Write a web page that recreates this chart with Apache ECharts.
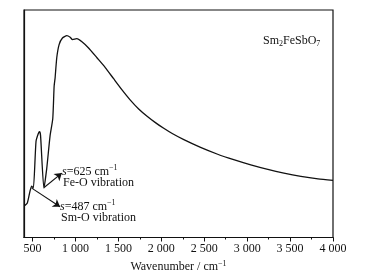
<!DOCTYPE html>
<html>
<head>
<meta charset="utf-8">
<script src="https://cdn.jsdelivr.net/npm/echarts@6/dist/echarts.min.js"></script>
<style>
  html, body { margin: 0; padding: 0; background: #fff; }
  #chart { width: 366px; height: 278px; }
</style>
</head>
<body>
<div id="chart"></div>
<script>
  // wavenumber (cm-1) and relative intensity
  const wavenumbers = [403, 439, 470, 490, 509, 540, 567, 581, 593, 632, 665, 704, 735, 751, 762, 782, 809, 848, 899, 938, 965, 1016, 1075, 1152, 1250, 1347, 1444, 1542, 1639, 1736, 1834, 1931, 2028, 2127, 2262, 2457, 2656, 2843, 3042, 3241, 3428, 3626, 3825, 4000];
  const intensity = [13.9, 15.2, 20.4, 22.6, 21.7, 42.2, 45.7, 46.5, 44.8, 21.7, 30.4, 44.8, 52.2, 66.5, 70.0, 79.1, 84.8, 87.7, 88.7, 88.0, 87.0, 87.4, 86.0, 83.3, 79.0, 74.7, 69.8, 64.9, 60.4, 56.5, 53.3, 50.5, 48.0, 45.7, 43.0, 39.6, 36.6, 34.2, 31.9, 29.9, 28.3, 26.9, 25.8, 25.1];
  const majorTicks = [500, 1000, 1500, 2000, 2500, 3000, 3500, 4000];
  const minorTicks = [750, 1250, 1750, 2250, 2750, 3250, 3750];

  const serif = '"Liberation Serif", "DejaVu Serif", serif';
  const chart = echarts.init(document.getElementById('chart'));

  const fmt = v => v >= 1000 ? Math.floor(v / 1000) + ' ' + String(v % 1000).padStart(3, '0') : String(v);

  const supRich = {
    i: { fontStyle: 'italic', fontFamily: serif, fontSize: 12, color: '#111' },
    n: { fontFamily: serif, fontSize: 12, color: '#111' },
    sup: { fontFamily: serif, fontSize: 8, color: '#111', padding: [0, 0, 7, 0] },
    sub: { fontFamily: serif, fontSize: 8, color: '#111', padding: [6, 0, 0, 0] }
  };

  chart.setOption({
    animation: false,
    grid: { left: 24, right: 33, top: 10, bottom: 38, show: true, borderColor: '#111', borderWidth: 1.2 },
    xAxis: [{
      type: 'value', min: 400, max: 4000,
      name: 'Wavenumber / cm{sup|−1}',
      nameLocation: 'middle', nameGap: 22,
      nameTextStyle: { fontFamily: serif, fontSize: 12, color: '#111', rich: supRich },
      axisLine: { show: true, lineStyle: { color: '#111', width: 1.2 } },
      axisTick: { show: true, customValues: majorTicks, length: 4, lineStyle: { color: '#111' } },
      axisLabel: { customValues: majorTicks, formatter: fmt, fontFamily: serif, fontSize: 12, color: '#111', margin: 5 },
      splitLine: { show: false }
    }, {
      type: 'value', min: 400, max: 4000, position: 'bottom',
      axisLine: { show: false },
      axisTick: { show: true, customValues: minorTicks, length: 2, lineStyle: { color: '#111' } },
      axisLabel: { show: false },
      splitLine: { show: false }
    }],
    yAxis: {
      type: 'value', min: 0, max: 100,
      axisLine: { show: true, lineStyle: { color: '#111', width: 1.2 } },
      axisTick: { show: false }, axisLabel: { show: false }, splitLine: { show: false }
    },
    series: [{
      type: 'line',
      data: wavenumbers.map((w, i) => [w, intensity[i]]),
      showSymbol: false,
      smooth: 0.2,
      lineStyle: { color: '#111', width: 1.3 },
      markLine: {
        silent: true,
        symbol: ['none', 'arrow'],
        symbolSize: 7,
        label: { show: false },
        lineStyle: { color: '#111', width: 1.1, type: 'solid' },
        data: [
          [{ coord: [634, 22] }, { coord: [841, 28.3] }],
          [{ coord: [490, 21.7] }, { coord: [820, 13.5] }]
        ]
      }
    }],
    graphic: [
      { type: 'text', left: 263, top: 35, style: { text: 'Sm{sub|2}FeSbO{sub|7}', rich: supRich, font: '12px ' + serif, fill: '#111' } },
      { type: 'text', left: 62, top: 164, style: { text: '{i|s}{n|=625 cm}{sup|−1}', rich: supRich, fill: '#111' } },
      { type: 'text', left: 63, top: 177, style: { text: 'Fe-O vibration', font: '12px ' + serif, fill: '#111' } },
      { type: 'text', left: 60, top: 199, style: { text: '{i|s}{n|=487 cm}{sup|−1}', rich: supRich, fill: '#111' } },
      { type: 'text', left: 61, top: 212, style: { text: 'Sm-O vibration', font: '12px ' + serif, fill: '#111' } }
    ]
  });
</script>
</body>
</html>
